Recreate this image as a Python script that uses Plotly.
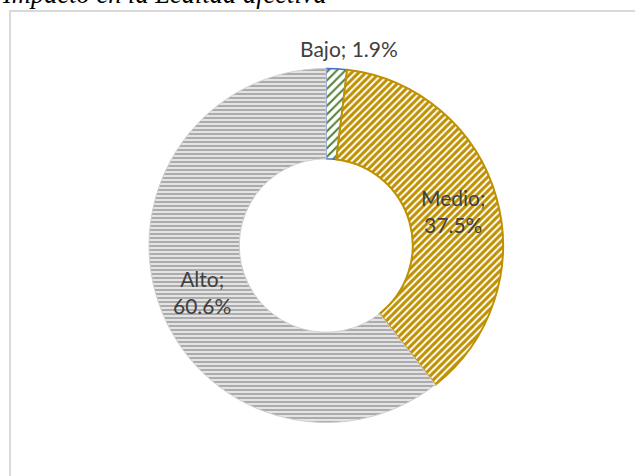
import plotly.graph_objects as go

title_text = "Impacto en la Lealtad afectiva"
labels = ["Bajo", "Medio", "Alto"]
values = [1.9, 37.5, 60.6]
fg_colors = ["#548235", "#bf9000", "#a6a6a6"]
bg_colors = ["#ffffff", "#ffffff", "#e4e4e4"]
line_colors = ["#4472c4", "#bf9000", "#d0d0d0"]
shapes_pat = ["/", "/", "-"]

W, H = 635, 476
cx, cy, R = 326, 245.5, 177

fig = go.Figure()
fig.add_trace(go.Pie(
    labels=labels,
    values=values,
    sort=False,
    direction="clockwise",
    rotation=0,
    hole=0.49,
    textinfo="none",
    marker=dict(
        colors=bg_colors,
        line=dict(color=line_colors, width=[1.5, 2, 1]),
        pattern=dict(shape=shapes_pat, fgcolor=fg_colors, bgcolor=bg_colors,
                     size=[6, 5, 4], solidity=[0.35, 0.6, 0.45], fillmode="replace"),
    ),
    domain=dict(x=[(cx - R) / W, (cx + R) / W], y=[(H - cy - R) / H, (H - cy + R) / H]),
    showlegend=False,
    hoverinfo="label+percent",
))

# label placement (pixel centres) for each slice label
label_pos = [(349, 49), (453, 211), (202, 291.5)]
label_sep = [" ", "<br>", "<br>"]
total = sum(values)
annotations = []
for lab, val, (px, py), sep in zip(labels, values, label_pos, label_sep):
    annotations.append(dict(
        text=f"{lab};{sep}{val / total * 100:.1f}%",
        xref="paper", yref="paper", x=px / W, y=1 - py / H,
        xanchor="center", yanchor="middle", showarrow=False,
        font=dict(family="Lato", size=21, color="#404040"),
    ))

annotations.append(dict(text="<i>" + title_text + "</i>", xref="paper", yref="paper",
                        x=0, y=1 - 10.5 / H, xanchor="left", yanchor="bottom",
                        showarrow=False,
                        font=dict(family="Liberation Serif", size=26.5, color="black")))

fig.update_layout(
    width=W, height=H,
    margin=dict(l=0, r=0, t=0, b=0),
    paper_bgcolor="white",
    plot_bgcolor="white",
    shapes=[dict(type="rect", xref="paper", yref="paper",
                 x0=10 / W, x1=1.02, y0=-0.02, y1=1 - 11 / H,
                 line=dict(color="#d9d9d9", width=2))],
    annotations=annotations,
)

fig.write_html("out.html")
